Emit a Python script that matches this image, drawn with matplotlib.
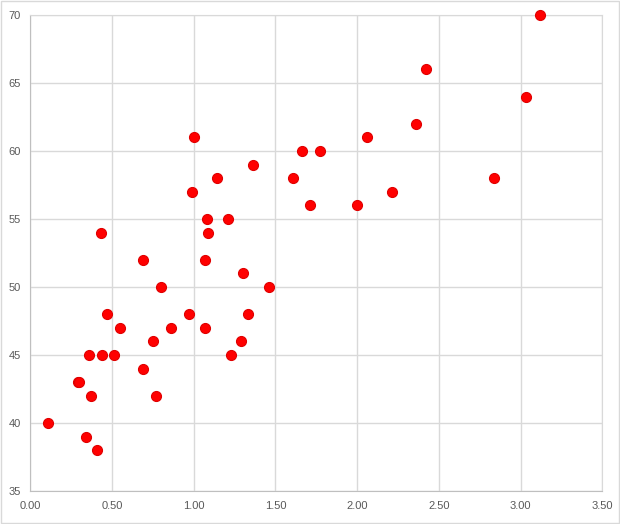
import numpy as np
import matplotlib.pyplot as plt
from matplotlib.ticker import FormatStrFormatter, MultipleLocator
from matplotlib.patches import Rectangle

x = [1.00, 1.66, 1.77, 1.36, 1.14, 1.61, 0.99, 1.71, 1.08, 1.21, 0.43, 1.09,
     3.12, 2.42, 3.03, 2.36, 2.06, 2.84, 2.21, 2.00,
     0.69, 1.07, 1.30, 0.80, 1.46, 0.47, 0.97, 1.33, 0.55, 0.86, 1.07,
     0.75, 1.29, 0.36, 0.44, 0.51, 1.23, 0.69, 0.29, 0.30, 0.37, 0.77,
     0.11, 0.34, 0.41]
y = [61, 60, 60, 59, 58, 58, 57, 56, 55, 55, 54, 54,
     70, 66, 64, 62, 61, 58, 57, 56,
     52, 52, 51, 50, 50, 48, 48, 48, 47, 47, 47,
     46, 46, 45, 45, 45, 45, 44, 43, 43, 42, 42,
     40, 39, 38]

plt.rcParams['font.family'] = ['Liberation Sans', 'DejaVu Sans']

fig = plt.figure(figsize=(6.2, 5.24), dpi=100)
ax = fig.add_axes([0.0489, 0.0630, 0.9226, 0.9084])

fig.patches.append(Rectangle((0.002, 0.002), 0.996, 0.996, transform=fig.transFigure,
                             fill=False, edgecolor='#d9d9d9', linewidth=1))

ax.scatter(x, y, s=52, color='#ff0000', edgecolors='#e00000', linewidths=0.8, zorder=3, clip_on=False)

ax.set_xlim(0, 3.5)
ax.set_ylim(35, 70)
ax.xaxis.set_major_locator(MultipleLocator(0.5))
ax.yaxis.set_major_locator(MultipleLocator(5))
ax.xaxis.set_major_formatter(FormatStrFormatter('%.2f'))
ax.grid(True, color='#d9d9d9', linewidth=1)
ax.set_axisbelow(True)
ax.tick_params(length=0, labelsize=8, colors='#595959', pad=7)

for s in ['top', 'right']:
    ax.spines[s].set_color('#d9d9d9')
for s in ['left', 'bottom']:
    ax.spines[s].set_color('#bfbfbf')

fig.savefig('out.png', dpi=100)
